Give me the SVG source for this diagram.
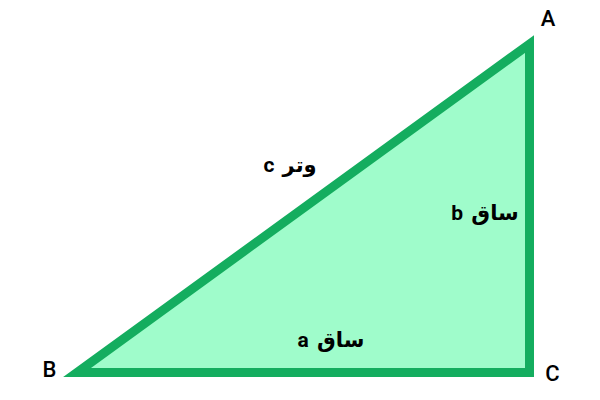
<svg xmlns="http://www.w3.org/2000/svg" width="600" height="400" viewBox="0 0 600 400">
<style>
.lbl{font-family:Roboto,"DejaVu Sans",sans-serif;font-size:22px;font-weight:500;fill:#000;text-anchor:middle}
.side{font-family:Roboto,"DejaVu Sans",sans-serif;font-size:21px;font-weight:700;fill:#000;text-anchor:middle;word-spacing:3px}
</style>
<rect width="600" height="400" fill="#fff"/>
<g id="triangle">
<polygon points="77,372.5 529.5,372.5 529.5,44" fill="#9ffccb" stroke="#14ad5f" stroke-width="9" stroke-linejoin="miter" stroke-miterlimit="10"/>
</g>
<g id="connectors"></g>
<g id="vertex-A"><text class="lbl" x="548" y="25.5">A</text></g>
<g id="vertex-B"><text class="lbl" x="49.5" y="377">B</text></g>
<g id="vertex-C"><text class="lbl" x="552.5" y="381">C</text></g>
<g id="label-c"><text class="side" x="290" y="172" direction="rtl">وتر c</text></g>
<g id="label-b"><text class="side" x="485" y="220" direction="rtl">ساق b</text></g>
<g id="label-a"><text class="side" x="331" y="347" direction="rtl">ساق a</text></g>
</svg>
